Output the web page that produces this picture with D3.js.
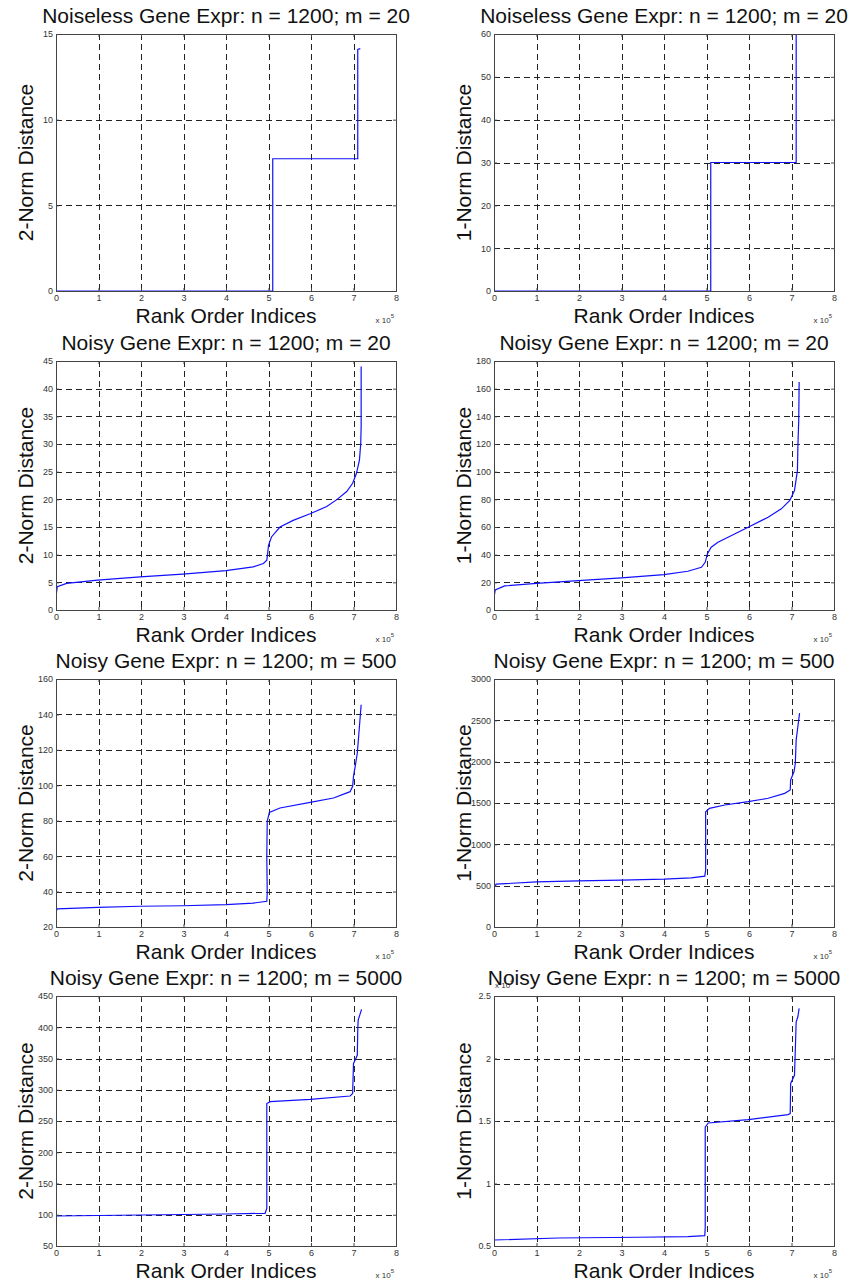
<!DOCTYPE html>
<html>
<head>
<meta charset="utf-8">
<script src="https://cdn.jsdelivr.net/npm/d3@7"></script>
<style>
  body { margin: 0; background: #fff; }
  svg text { font-family: "Liberation Sans", Arial, sans-serif; }
</style>
</head>
<body>
<svg id="figure" width="851" height="1285"></svg>
<script>
// titles, one per row of panels
var titles = [
  "Noiseless Gene Expr: n = 1200; m = 20",
  "Noisy Gene Expr: n = 1200; m = 20",
  "Noisy Gene Expr: n = 1200; m = 500",
  "Noisy Gene Expr: n = 1200; m = 5000"
];
var yLabels = ["2-Norm Distance", "1-Norm Distance"];
var xLabel = "Rank Order Indices";
var xTicks = [0, 1, 2, 3, 4, 5, 6, 7, 8];   // x 10^5

// y ranges and ticks, panels in reading order (left, right, ...)
var yDomains = [[0, 15], [0, 60], [0, 45], [0, 180], [20, 160], [0, 3000], [50, 450], [0.5, 2.5]];
var yTicks = [
  [0, 5, 10, 15],
  [0, 10, 20, 30, 40, 50, 60],
  [0, 5, 10, 15, 20, 25, 30, 35, 40, 45],
  [0, 20, 40, 60, 80, 100, 120, 140, 160, 180],
  [20, 40, 60, 80, 100, 120, 140, 160],
  [0, 500, 1000, 1500, 2000, 2500, 3000],
  [50, 100, 150, 200, 250, 300, 350, 400, 450],
  [0.5, 1, 1.5, 2, 2.5]
];

// curves; x in units of 10^5
var noiselessL2X = [0, 5.10, 5.10, 7.10, 7.10, 7.16];
var noiselessL2Y = [0, 0, 7.72, 7.72, 14.1, 14.15];
var noiselessL1X = [0, 5.10, 5.10, 7.11, 7.11];
var noiselessL1Y = [0, 0, 30, 30, 60];

var noisy20L2X = [0, 0.03, 0.25, 0.98, 1.98, 2.98, 4.0, 4.64, 4.88, 4.96, 4.98, 5.00, 5.07, 5.27, 5.58, 5.98, 6.37, 6.60, 6.84, 6.98, 7.07, 7.14, 7.17, 7.18, 7.18];
var noisy20L2Y = [2.4, 4.2, 4.8, 5.4, 6.0, 6.5, 7.1, 7.8, 8.4, 9.0, 10.2, 11.7, 13.2, 15.0, 16.2, 17.4, 18.7, 19.9, 21.4, 22.9, 24.7, 27.1, 30.1, 33.1, 44.0];
var noisy20L1X = [0, 0.03, 0.25, 1.0, 1.98, 3.0, 4.0, 4.56, 4.88, 4.97, 5.02, 5.11, 5.27, 5.66, 5.98, 6.45, 6.76, 6.96, 7.07, 7.14, 7.15, 7.17, 7.18];
var noisy20L1Y = [9.2, 14.5, 17.4, 19.3, 21.2, 23.2, 25.6, 28.0, 30.9, 34.5, 40.5, 45.4, 49.0, 55.0, 59.8, 67.1, 73.1, 79.2, 86.4, 100.9, 117.8, 137.1, 164.8];

var noisy500L2X = [0, 0.03, 0.98, 1.98, 2.98, 4.0, 4.64, 4.96, 4.97, 4.96, 4.97, 5.02, 5.27, 5.98, 6.53, 6.92, 6.98, 7.0, 7.04, 7.09, 7.14, 7.18];
var noisy500L2Y = [28.8, 30.2, 31.1, 31.7, 32.0, 32.6, 33.5, 34.5, 39.2, 59.9, 79.7, 84.7, 87.2, 90.4, 92.8, 96.4, 99.4, 105.1, 110.7, 118.2, 133.3, 145.5];
var noisy500L1X = [0, 0.05, 1.0, 1.98, 3.0, 4.0, 4.64, 4.96, 4.98, 4.98, 5.07, 5.43, 5.98, 6.45, 6.84, 6.97, 6.98, 7.06, 7.09, 7.11, 7.15, 7.19];
var noisy500L1Y = [485, 518, 546, 558, 566, 578, 594, 615, 687, 1395, 1435, 1476, 1516, 1557, 1617, 1658, 1779, 1880, 1981, 2264, 2426, 2588];

var noisy5000L2X = [0, 1.98, 4.0, 4.92, 4.96, 4.96, 5.04, 5.98, 6.92, 6.98, 7.0, 7.04, 7.09, 7.10, 7.11, 7.19];
var noisy5000L2Y = [98, 99.6, 101.2, 102.3, 110, 278, 281, 284.7, 290, 294, 342, 347.6, 355.6, 395.6, 411.6, 428.7];
var noisy5000L1X = [0, 1.51, 3.39, 4.56, 4.96, 4.97, 4.97, 5.04, 5.98, 6.92, 6.97, 6.98, 7.07, 7.09, 7.11, 7.15, 7.18];
var noisy5000L1Y = [0.548, 0.564, 0.570, 0.575, 0.583, 0.65, 1.45, 1.484, 1.511, 1.551, 1.559, 1.80, 1.866, 2.07, 2.294, 2.334, 2.401];   // x 10^4

var seriesX = [noiselessL2X, noiselessL1X, noisy20L2X, noisy20L1X, noisy500L2X, noisy500L1X, noisy5000L2X, noisy5000L1X];
var seriesY = [noiselessL2Y, noiselessL1Y, noisy20L2Y, noisy20L1Y, noisy500L2Y, noisy500L1Y, noisy5000L2Y, noisy5000L1Y];

// layout of the axes boxes
var colLeft = [56, 494];
var plotWidth = 340;
var rowTop = [34, 361, 679, 996];
var rowHeight = [257, 249, 248, 250];

var svg = d3.select("#figure");

for (var i = 0; i < 8; i++) {
  drawPanel(i);
}

/**
 * draws one axes box with its grid, curve and labels
 */
function drawPanel(i) {
  var row = Math.floor(i / 2), col = i % 2;
  var left = colLeft[col], top = rowTop[row];
  var w = plotWidth, h = rowHeight[row];

  var x = d3.scaleLinear().domain([0, 8]).range([0, w]);
  var y = d3.scaleLinear().domain(yDomains[i]).range([h, 0]);

  var g = svg.append("g").attr("transform", "translate(" + left + "," + top + ")");

  // clip region for the curve
  g.append("clipPath").attr("id", "clip" + i)
    .append("rect").attr("width", w).attr("height", h);

  // dashed grid
  g.selectAll("line.vgrid").data(xTicks.slice(1, -1)).enter().append("line")
    .attr("x1", function(d) { return Math.round(x(d)) + 0.5; })
    .attr("x2", function(d) { return Math.round(x(d)) + 0.5; })
    .attr("y1", 0).attr("y2", h)
    .attr("stroke", "#222").attr("stroke-width", 1).attr("stroke-dasharray", "6,4");
  var yInner = yTicks[i].filter(function(d) { return d > yDomains[i][0] && d < yDomains[i][1]; });
  g.selectAll("line.hgrid").data(yInner).enter().append("line")
    .attr("y1", function(d) { return Math.round(y(d)) + 0.5; })
    .attr("y2", function(d) { return Math.round(y(d)) + 0.5; })
    .attr("x1", 0).attr("x2", w)
    .attr("stroke", "#222").attr("stroke-width", 1).attr("stroke-dasharray", "6,4");

  // the curve
  var pts = seriesX[i].map(function(v, k) { return [v, seriesY[i][k]]; });
  var line = d3.line().x(function(d) { return x(d[0]); }).y(function(d) { return y(d[1]); });
  g.append("path").datum(pts)
    .attr("d", line)
    .attr("clip-path", "url(#clip" + i + ")")
    .attr("fill", "none").attr("stroke", "#1010ff").attr("stroke-width", 1.2);

  // axes with inward ticks, mirrored on top and right
  var fmt = function(d) { return String(d); };
  var axes = [
    { ax: d3.axisBottom(x).tickValues(xTicks).tickSize(-3).tickFormat(fmt), t: "translate(0," + h + ")", bottom: true },
    { ax: d3.axisTop(x).tickValues(xTicks).tickSize(-3).tickFormat(""), t: "translate(0,0)" },
    { ax: d3.axisLeft(y).tickValues(yTicks[i]).tickSize(-3).tickFormat(fmt), t: "translate(0,0)", side: true },
    { ax: d3.axisRight(y).tickValues(yTicks[i]).tickSize(-3).tickFormat(""), t: "translate(" + w + ",0)" }
  ];
  axes.forEach(function(a) {
    var ag = g.append("g").attr("transform", a.t).call(a.ax);
    ag.select(".domain").remove();
    ag.selectAll(".tick line").attr("stroke", "#444");
    var txt = ag.selectAll("text").attr("font-size", 9).attr("fill", "#333")
      .style("font-family", '"Liberation Sans", Arial, sans-serif');
    if (a.bottom) txt.attr("y", 4).attr("dy", "0.71em");
    if (a.side) txt.attr("x", -3);
  });

  // frame
  g.append("rect").attr("x", 0.5).attr("y", 0.5).attr("width", w).attr("height", h)
    .attr("fill", "none").attr("stroke", "#444").attr("stroke-width", 1);

  // title
  g.append("text").attr("x", w / 2).attr("y", -11).attr("text-anchor", "middle")
    .attr("font-size", 21).attr("fill", "#111").text(titles[row]);

  // x label
  g.append("text").attr("x", w / 2).attr("y", h + 32).attr("text-anchor", "middle")
    .attr("font-size", 21).attr("fill", "#111").text(xLabel);

  // y label
  g.append("text").attr("transform", "translate(-23," + (h / 2) + ") rotate(-90)")
    .attr("text-anchor", "middle").attr("font-size", 21).attr("fill", "#111").text(yLabels[col]);

  // exponent of the x axis
  var ex = g.append("text").attr("x", w - 2).attr("y", h + 32).attr("text-anchor", "end")
    .attr("font-size", 8).attr("fill", "#333");
  ex.append("tspan").text("x 10");
  ex.append("tspan").attr("dy", -5).attr("font-size", 6).text("5");

  // exponent of the y axis on the last panel
  if (i === 7) {
    var ey = g.append("text").attr("x", 1).attr("y", -8).attr("font-size", 8).attr("fill", "#333");
    ey.append("tspan").text("x 10");
    ey.append("tspan").attr("dy", -5).attr("font-size", 6).text("4");
  }
}
</script>
</body>
</html>
